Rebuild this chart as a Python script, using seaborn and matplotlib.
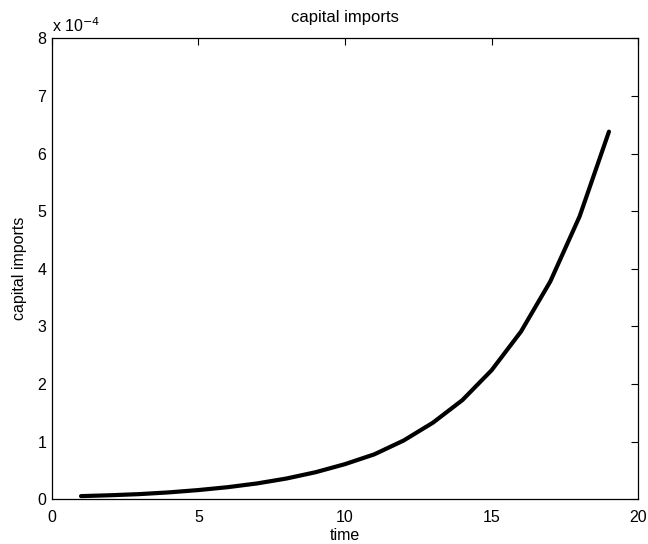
import matplotlib
matplotlib.use("Agg")
import matplotlib.pyplot as plt
import matplotlib.ticker as mticker
import numpy as np
import pandas as pd
import seaborn as sns

# Capital imports over time (values in units of 1e-4)
time = [1, 2, 3, 4, 5, 6, 7, 8, 9, 10, 11, 12, 13, 14, 15, 16, 17, 18, 19]
imports_e4 = [0.055, 0.07, 0.09, 0.12, 0.16, 0.21, 0.275, 0.36, 0.47, 0.61,
              0.78, 1.02, 1.33, 1.72, 2.24, 2.91, 3.78, 4.91, 6.38]
x_ticks = [0, 5, 10, 15, 20]
y_ticks = [0, 1, 2, 3, 4, 5, 6, 7, 8]

df = pd.DataFrame({"time": time, "capital imports": np.array(imports_e4) * 1e-4})

sns.set_style("white")
plt.rcParams["font.family"] = ["Liberation Sans", "DejaVu Sans"]
plt.rcParams["text.color"] = "black"
plt.rcParams["axes.labelcolor"] = "black"

fig = plt.figure(figsize=(6.48, 5.44), dpi=100)
ax = fig.add_axes([0.0798, 0.0822, 0.9052, 0.8474])

sns.lineplot(data=df, x="time", y="capital imports", color="black",
             linewidth=3, ax=ax, legend=False)

ax.set_xlim(0, 20)
ax.set_ylim(0, 8e-4)
ax.set_xticks(x_ticks)
ax.set_yticks([v * 1e-4 for v in y_ticks])
ax.yaxis.set_major_formatter(mticker.FuncFormatter(lambda v, p: f"{v / 1e-4:.0f}"))

for s in ax.spines.values():
    s.set_color("black")
    s.set_linewidth(0.9)

ax.tick_params(axis="both", which="major", direction="in", length=5, width=0.8,
               top=True, right=True, labelsize=11.5, colors="black")
ax.tick_params(axis="x", pad=8.0)
ax.tick_params(axis="y", pad=4)

ax.set_xlabel("time", fontsize=11.5, labelpad=2.0)
ax.set_ylabel("capital imports", fontsize=11.5, labelpad=7.5)
ax.set_title("capital imports", fontsize=12, pad=12, color="black")

ax.text(0.0, 1.008, r"x 10$^{-4}$", transform=ax.transAxes, fontsize=11.5,
        ha="left", va="bottom", color="black")

fig.savefig("out.png", dpi=100)
